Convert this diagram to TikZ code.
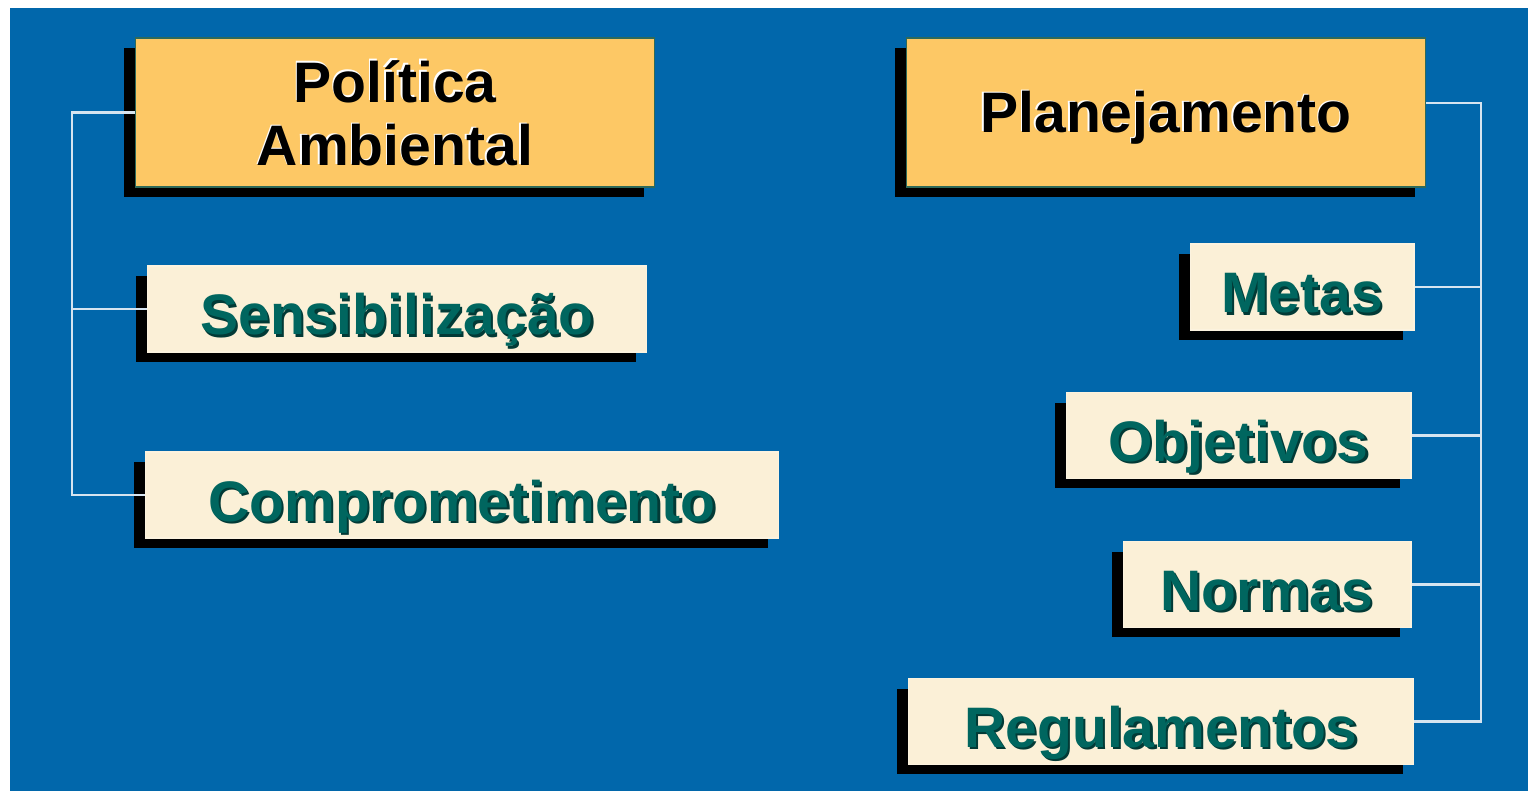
\documentclass[tikz,border=0pt]{standalone}
\usepackage{fontspec}
\setmainfont{Liberation Sans}
\usetikzlibrary{shadows}

\definecolor{slideblue}{HTML}{0167AB}
\definecolor{boxgold}{HTML}{FDC865}
\definecolor{boxcream}{HTML}{FBF0D7}
\definecolor{goldline}{HTML}{2E6A5A}
\definecolor{labelteal}{HTML}{00665F}
\definecolor{tealshade}{HTML}{023A36}
\definecolor{wirewhite}{HTML}{D6E4F0}

\newcommand{\tealtext}[1]{\makebox[0pt][l]{\hspace{1.3pt}\raisebox{-1.3pt}{\color{tealshade}#1}}{\color{labelteal}#1}}
\newcommand{\headtext}[1]{\makebox[0pt][l]{\hspace{-0.8pt}\raisebox{0.8pt}{\color{white}#1}}{\color{black}#1}}

\begin{document}
\begin{tikzpicture}[x=0.02cm, y=-0.02cm,
  font=\fontsize{32.5}{36}\selectfont\bfseries,
  boxshade/.style={drop shadow={shadow xshift=-0.22cm, shadow yshift=-0.2cm, fill=black, opacity=1}},
  headbox/.style={boxshade, fill=boxgold, draw=goldline, line width=0.6pt, inner sep=0pt, align=center, minimum width=10.4cm, minimum height=2.98cm},
  itembox/.style={boxshade, fill=boxcream, draw=boxcream!80!white, line width=0.6pt, inner sep=0pt, minimum height=1.72cm, text height=1.04cm, text depth=0pt},
  wire/.style={draw=wirewhite, line width=1.2pt}]

\fill[slideblue] (10,8) rectangle (1528,791);
\useasboundingbox (0,0) rectangle (1528,791);

% left column
\node[headbox] (politica) at (395,112.5) {\headtext{Política}\\\headtext{Ambiental}};
\node[itembox, minimum width=10cm] (sensib) at (397,309) {\tealtext{Sensibilização}};
\node[itembox, minimum width=12.68cm] (comprom) at (462,495) {\tealtext{Comprometimento}};

% right column
\node[headbox, text height=0.82cm, text depth=0pt] (planej) at (1166,112.5) {\headtext{Planejamento}};
\node[itembox, minimum width=4.48cm] (metas) at (1302,287) {\tealtext{Metas}};
\node[itembox, minimum width=6.9cm] (objetivos) at (1238.5,435.5) {\tealtext{Objetivos}};
\node[itembox, minimum width=5.76cm] (normas) at (1267,584.5) {\tealtext{Normas}};
\node[itembox, minimum width=10.12cm] (regul) at (1161,721.5) {\tealtext{Regulamentos}};

% connectors
\coordinate (ltrunk) at (72,112.5);
\coordinate (rtrunk) at (1481,103);

\draw[wire] (politica.west) -- (ltrunk) |- (comprom.west);
\draw[wire] (sensib.west) -- (sensib.west -| ltrunk);

\draw[wire] (planej.east |- rtrunk) -- (rtrunk) |- (regul.east);
\draw[wire] (metas.east) -- (metas.east -| rtrunk);
\draw[wire] (objetivos.east) -- (objetivos.east -| rtrunk);
\draw[wire] (normas.east) -- (normas.east -| rtrunk);

\end{tikzpicture}
\end{document}
